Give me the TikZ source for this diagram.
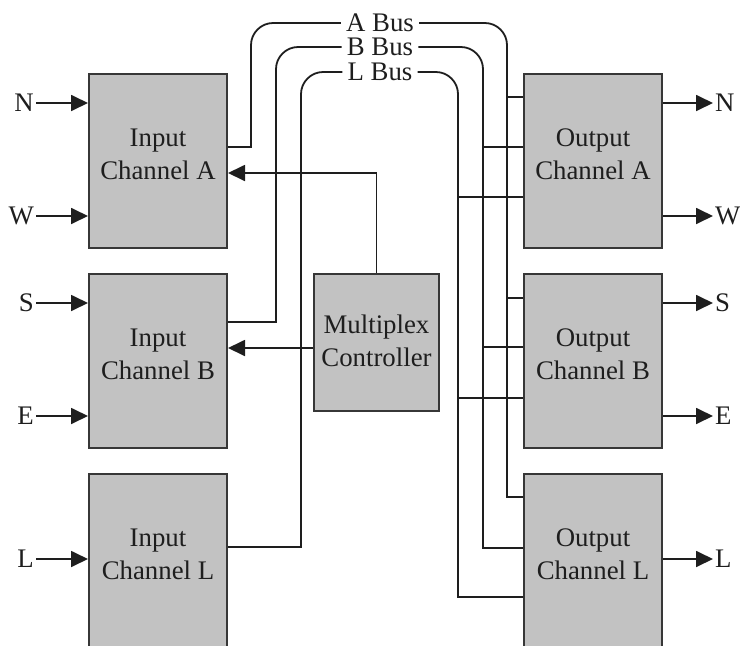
\documentclass[tikz,border=0pt]{standalone}
\usepackage{fontspec}
\setmainfont{Liberation Serif}
\usetikzlibrary{arrows.meta}
\definecolor{boxfill}{RGB}{194,194,194}
\definecolor{boxline}{RGB}{55,55,55}
\definecolor{ink}{RGB}{30,30,30}
\begin{document}
\begin{tikzpicture}[x=1pt,y=-1pt,
  font=\fontsize{26.8}{33}\selectfont,
  box/.style={draw=boxline, line width=2pt, fill=boxfill,
    minimum width=138pt, minimum height=174pt, inner sep=0pt, anchor=north west},
  lbl/.style={align=center, text=ink, yshift=7pt},
  wire/.style={draw=ink, line width=1.8pt},
  arr/.style={wire, -{Triangle[length=17pt,width=16pt]}},
  io/.style={text=ink, inner sep=2pt},
  buslbl/.style={text=ink, inner xsep=5pt, inner ysep=0pt}]
\useasboundingbox (0,0) rectangle (740,646);
\clip (0,0) rectangle (740,646);

% input channels
\node[box, label={[lbl]center:{Input\\Channel A}}] (inA) at (88,73) {};
\node[box, label={[lbl]center:{Input\\Channel B}}] (inB) at (88,273) {};
\node[box, label={[lbl]center:{Input\\Channel L}}] (inL) at (88,473) {};

% output channels
\node[box, label={[lbl]center:{Output\\Channel A}}] (outA) at (523,73) {};
\node[box, label={[lbl]center:{Output\\Channel B}}] (outB) at (523,273) {};
\node[box, label={[lbl]center:{Output\\Channel L}}] (outL) at (523,473) {};

% controller
\node[box, minimum width=125pt, minimum height=137pt,
  label={[lbl, yshift=-5.5pt]center:{Multiplex\\Controller}}] (mux) at (313,273) {};

% port labels
\node[io, anchor=east] (pN) at (36,103) {N};
\node[io, anchor=east] (pW) at (36,216) {W};
\node[io, anchor=east] (pS) at (36,303) {S};
\node[io, anchor=east] (pE) at (36,416) {E};
\node[io, anchor=east] (pL) at (36,559) {L};
\node[io, anchor=west] (qN) at (713,103) {N};
\node[io, anchor=west] (qW) at (713,216) {W};
\node[io, anchor=west] (qS) at (713,303) {S};
\node[io, anchor=west] (qE) at (713,416) {E};
\node[io, anchor=west] (qL) at (713,559) {L};

% bus labels
\node[buslbl] (busA) at (380,23) {A Bus};
\node[buslbl] (busB) at (380,47) {B Bus};
\node[buslbl] (busL) at (380,72) {L Bus};

% input and output ports
\draw[arr] (pN.east) -- (inA.west |- pN);
\draw[arr] (pW.east) -- (inA.west |- pW);
\draw[arr] (pS.east) -- (inB.west |- pS);
\draw[arr] (pE.east) -- (inB.west |- pE);
\draw[arr] (pL.east) -- (inL.west |- pL);
\draw[arr] (outA.east |- qN) -- (qN.west);
\draw[arr] (outA.east |- qW) -- (qW.west);
\draw[arr] (outB.east |- qS) -- (qS.west);
\draw[arr] (outB.east |- qE) -- (qE.west);
\draw[arr] (outL.east |- qL) -- (qL.west);

% A bus
\draw[wire] (inA.east |- 0,147) -- (251,147) -- (251,45)
  .. controls (251,33) and (261,23) .. (273,23) -- (busA.west);
\draw[wire] (busA.east) -- (485,23)
  .. controls (497,23) and (507,33) .. (507,45) -- (507,497) -- (outL.west |- 0,497);
\draw[wire] (507,97) -- (outA.west |- 0,97);
\draw[wire] (507,298) -- (outB.west |- 0,298);

% B bus
\draw[wire] (inB.east |- 0,322) -- (276,322) -- (276,69)
  .. controls (276,57) and (286,47) .. (298,47) -- (busB.west);
\draw[wire] (busB.east) -- (461,47)
  .. controls (473,47) and (483,57) .. (483,69) -- (483,548) -- (outL.west |- 0,548);
\draw[wire] (483,147) -- (outA.west |- 0,147);
\draw[wire] (483,347) -- (outB.west |- 0,347);

% L bus
\draw[wire] (inL.east |- 0,547) -- (301,547) -- (301,94)
  .. controls (301,82) and (311,72) .. (323,72) -- (busL.west);
\draw[wire] (busL.east) -- (436,72)
  .. controls (448,72) and (458,82) .. (458,94) -- (458,597) -- (outL.west |- 0,597);
\draw[wire] (458,197) -- (outA.west |- 0,197);
\draw[wire] (458,398) -- (outB.west |- 0,398);

% controller outputs
\draw[arr] (mux.north) |- (inA.east |- 0,173);
\draw[arr] (mux.west |- 0,348) -- (inB.east |- 0,348);
\end{tikzpicture}
\end{document}
